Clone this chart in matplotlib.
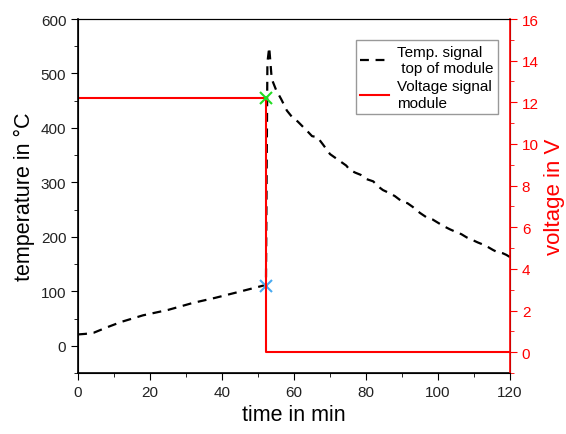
import matplotlib.pyplot as plt
from matplotlib.ticker import MultipleLocator

plt.rcParams["font.family"] = ["Liberation Sans", "DejaVu Sans"]

# temperature signal, top of module (min, degC)
time_temp = [0, 2, 4.3, 8, 12, 18, 25, 32, 38, 44, 50.5, 52.2,
             52.4, 52.6, 53.1, 53.8, 55, 56.5, 58, 59.7, 61, 62.5, 64,
             65, 66.5, 68, 70, 71.5, 73, 74.5, 75.5, 77, 78.5, 80.2,
             82, 83.5, 84.7, 86, 88, 90.2, 91.5, 93, 95, 96.8, 98.5,
             100, 101.5, 103.3, 105, 106.5, 108, 109.7, 111, 112.5,
             114, 115.3, 116.5, 118, 119, 120]
temp = [21, 22, 24, 34, 44, 56, 66, 79, 88, 98, 109, 112,
        330, 520, 548, 490, 470, 452, 432, 418, 412, 402, 392,
        385, 383, 370, 352, 345, 338, 331, 323, 318, 314, 306,
        302, 292, 286, 282, 275, 264, 262, 255, 244, 236, 232,
        226, 220, 214, 209, 205, 199, 194, 190, 186,
        181, 176, 172, 170, 167, 163]

# voltage signal, module (min, V)
time_volt = [0, 52.2, 52.2, 120]
volt = [12.2, 12.2, 0, 0]

# switch-off markers
t_off = 52.2
temp_off = 110
volt_off = 12.2

fig, ax = plt.subplots(figsize=(5.66, 4.35), dpi=100)
fig.subplots_adjust(left=0.138, right=0.901, bottom=0.14, top=0.954)
ax2 = ax.twinx()

l1, = ax.plot(time_temp, temp, color="black", lw=1.6, linestyle=(0, (4, 3)),
              label="Temp. signal\n top of module")
ax.plot([t_off], [temp_off], marker="x", color="#4aaaf0", ms=9, mew=1.5)

l2, = ax2.plot(time_volt, volt, color="red", lw=1.5, label="Voltage signal\nmodule")
ax2.plot([t_off], [volt_off], marker="x", color="#22dd22", ms=9, mew=1.5)

# axes
ax.set_xlim(0, 120)
ax.set_ylim(-50, 600)
ax2.set_ylim(-1, 16)
ax.xaxis.set_major_locator(MultipleLocator(20))
ax.xaxis.set_minor_locator(MultipleLocator(10))
ax.yaxis.set_major_locator(MultipleLocator(100))
ax.yaxis.set_minor_locator(MultipleLocator(50))
ax2.yaxis.set_major_locator(MultipleLocator(2))
ax2.yaxis.set_minor_locator(MultipleLocator(1))

ax.tick_params(which="both", direction="out", labelsize=11, top=False,
               labelcolor="#222222")
ax.tick_params(which="major", length=5)
ax.tick_params(which="minor", length=3)
ax2.tick_params(which="both", direction="out", colors="red", labelsize=11)
ax2.tick_params(which="major", length=5)
ax2.tick_params(which="minor", length=3)
ax2.spines["right"].set_color("red")
ax2.spines["right"].set_linewidth(1.2)
ax.spines["left"].set_linewidth(1.2)
ax.spines["bottom"].set_linewidth(1.2)

ax.set_xlabel("time in min", fontsize=15.5)
ax.set_ylabel("temperature in °C", fontsize=15.5)
ax2.set_ylabel("voltage in V", fontsize=16, color="red")

leg = ax2.legend(handles=[l1, l2], loc="upper right", bbox_to_anchor=(0.99, 0.962),
                 fontsize=11, frameon=True, fancybox=False, handlelength=1.9,
                 handletextpad=0.5, borderpad=0.3, labelspacing=0.3)
leg.get_frame().set_edgecolor("gray")
leg.get_frame().set_linewidth(1)

fig.savefig("out.png", dpi=100)
